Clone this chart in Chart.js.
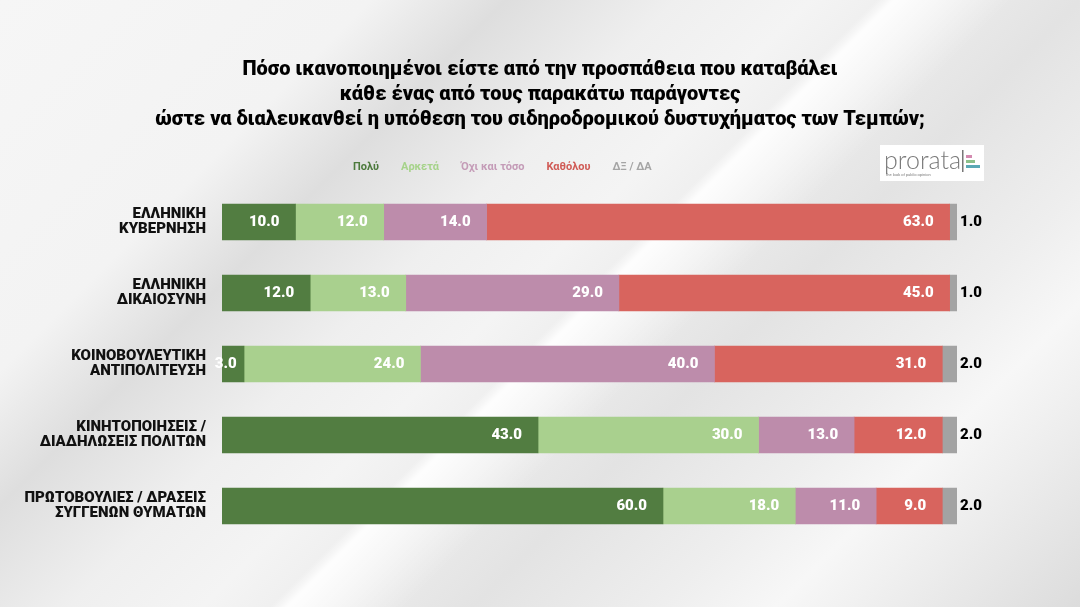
<!DOCTYPE html>
<html lang="el">
<head>
    <meta charset="UTF-8">
    <title>Ικανοποίηση - υπόθεση Τεμπών</title>
    <script src="https://cdn.jsdelivr.net/npm/chart.js"></script>
    <style>
        html, body { margin: 0; padding: 0; }
        body {
            width: 1080px; height: 607px; overflow: hidden;
            font-family: Roboto, Arial, sans-serif;
            background:
                linear-gradient(135deg, rgba(255,255,255,0) 0%, rgba(255,255,255,0) 52%, rgba(255,255,255,0.9) 53%, rgba(255,255,255,0) 60%, rgba(255,255,255,0) 100%),
                linear-gradient(135deg, #f6f6f6 0%, #f3f3f3 22%, #dedede 30%, #efefef 40%, #f4f4f4 48%, #e3e3e3 64%, #eeeeee 75%, #f7f7f7 82%, #dcdcdc 100%);
        }
        .chart-container { position: relative; width: 1080px; height: 607px; }
    </style>
</head>
<body>
    <div class="chart-container">
        <canvas id="surveyChart"></canvas>
    </div>

    <script>
        // δεδομένα
        const categories = [
            ['ΕΛΛΗΝΙΚΗ', 'ΚΥΒΕΡΝΗΣΗ'],
            ['ΕΛΛΗΝΙΚΗ', 'ΔΙΚΑΙΟΣΥΝΗ'],
            ['ΚΟΙΝΟΒΟΥΛΕΥΤΙΚΗ', 'ΑΝΤΙΠΟΛΙΤΕΥΣΗ'],
            ['ΚΙΝΗΤΟΠΟΙΗΣΕΙΣ /', 'ΔΙΑΔΗΛΩΣΕΙΣ ΠΟΛΙΤΩΝ'],
            ['ΠΡΩΤΟΒΟΥΛΙΕΣ / ΔΡΑΣΕΙΣ', 'ΣΥΓΓΕΝΩΝ ΘΥΜΑΤΩΝ']
        ];
        const seriesNames = ['Πολύ', 'Αρκετά', 'Όχι και τόσο', 'Καθόλου', 'ΔΞ / ΔΑ'];
        const poly     = [10, 12, 3, 43, 60];
        const arketa   = [12, 13, 24, 30, 18];
        const oxi      = [14, 29, 40, 13, 11];
        const katholou = [63, 45, 31, 12, 9];
        const dkda     = [1, 1, 2, 2, 2];
        const titleLines = [
            'Πόσο ικανοποιημένοι είστε από την προσπάθεια που καταβάλει',
            'κάθε ένας από τους παρακάτω παράγοντες',
            'ώστε να διαλευκανθεί η υπόθεση του σιδηροδρομικού δυστυχήματος των Τεμπών;'
        ];

        const colors = ['#527d41', '#a9d08e', '#bd8cab', '#d8645e', '#a3a3a3'];
        const legendColors = ['#4c7a3c', '#a6d38a', '#c49bb7', '#d05a55', '#a5a5a5'];

        // ετικέτες τιμών
        const valueLabels = {
            id: 'valueLabels',
            afterDatasetsDraw(chart) {
                const ctx = chart.ctx;
                ctx.save();
                ctx.textBaseline = 'middle';
                chart.data.datasets.forEach((ds, i) => {
                    const meta = chart.getDatasetMeta(i);
                    meta.data.forEach((bar, j) => {
                        const txt = ds.data[j].toFixed(1);
                        if (i === chart.data.datasets.length - 1) {
                            ctx.font = '900 15px Roboto';
                            ctx.fillStyle = '#000';
                            ctx.textAlign = 'left';
                            ctx.fillText(txt, bar.x + 3, bar.y);
                        } else {
                            const w = bar.x - bar.base;
                            const pad = Math.min(16, w / 3);
                            ctx.font = '900 15px Roboto';
                            ctx.fillStyle = '#fff';
                            ctx.textAlign = 'right';
                            ctx.fillText(txt, bar.x - pad, bar.y);
                        }
                    });
                });
                ctx.restore();
            }
        };

        // υπόμνημα ως χρωματιστό κείμενο + λογότυπο
        const textLegend = {
            id: 'textLegend',
            afterDraw(chart) {
                const ctx = chart.ctx;
                ctx.save();
                ctx.font = 'bold 11px Roboto';
                ctx.textBaseline = 'middle';
                ctx.textAlign = 'left';
                let x = 353;
                chart.data.datasets.forEach((ds, i) => {
                    ctx.fillStyle = legendColors[i];
                    ctx.fillText(ds.label, x, 167);
                    x += ctx.measureText(ds.label).width + 22;
                });

                ctx.fillStyle = '#fff';
                ctx.fillRect(880, 145, 104, 36);
                ctx.fillStyle = '#7a7a7a';
                ctx.font = '300 25px Lato';
                ctx.textBaseline = 'alphabetic';
                ctx.fillText('prorata', 884, 169);
                ctx.font = '4px Roboto';
                ctx.fillText('the look of public opinion', 886, 176);
                ctx.fillStyle = '#777';
                ctx.fillRect(962, 150, 1.5, 22);
                ctx.fillStyle = '#d48ab0'; ctx.fillRect(966, 155, 6, 3);
                ctx.fillStyle = '#8cc08a'; ctx.fillRect(966, 160, 9, 3);
                ctx.fillStyle = '#5aa8b5'; ctx.fillRect(966, 165, 14, 3);
                ctx.restore();
            }
        };

        const ctx = document.getElementById('surveyChart').getContext('2d');
        new Chart(ctx, {
            type: 'bar',
            data: {
                labels: categories,
                datasets: [poly, arketa, oxi, katholou, dkda].map((d, i) => ({
                    label: seriesNames[i],
                    data: d,
                    backgroundColor: colors[i],
                    borderWidth: 0,
                    barThickness: 36
                }))
            },
            options: {
                indexAxis: 'y',
                responsive: true,
                maintainAspectRatio: false,
                animation: false,
                layout: { padding: { left: 0, right: 0, top: 0, bottom: 65.5 } },
                scales: {
                    x: {
                        stacked: true,
                        min: 0,
                        max: 100,
                        display: false
                    },
                    y: {
                        stacked: true,
                        grid: { display: false, drawTicks: false },
                        border: { display: false },
                        ticks: {
                            color: '#111',
                            padding: 16,
                            font: { family: 'Roboto', size: 15, weight: '900', lineHeight: 1.0 }
                        },
                        afterFit(scale) { scale.width = 222; }
                    },
                    // κενός χώρος δεξιά για τις τιμές ΔΞ/ΔΑ
                    yRight: {
                        type: 'category',
                        position: 'right',
                        grid: { display: false, drawTicks: false },
                        border: { display: false },
                        ticks: { display: false },
                        afterFit(scale) { scale.width = 123; }
                    }
                },
                plugins: {
                    legend: { display: false },
                    tooltip: { enabled: false },
                    title: {
                        display: true,
                        text: titleLines,
                        color: '#000',
                        font: { family: 'Roboto', size: 20, weight: '900', lineHeight: 25 / 20 },
                        padding: { top: 57.5, bottom: 54 }
                    }
                }
            },
            plugins: [valueLabels, textLegend]
        });
    </script>
</body>
</html>
